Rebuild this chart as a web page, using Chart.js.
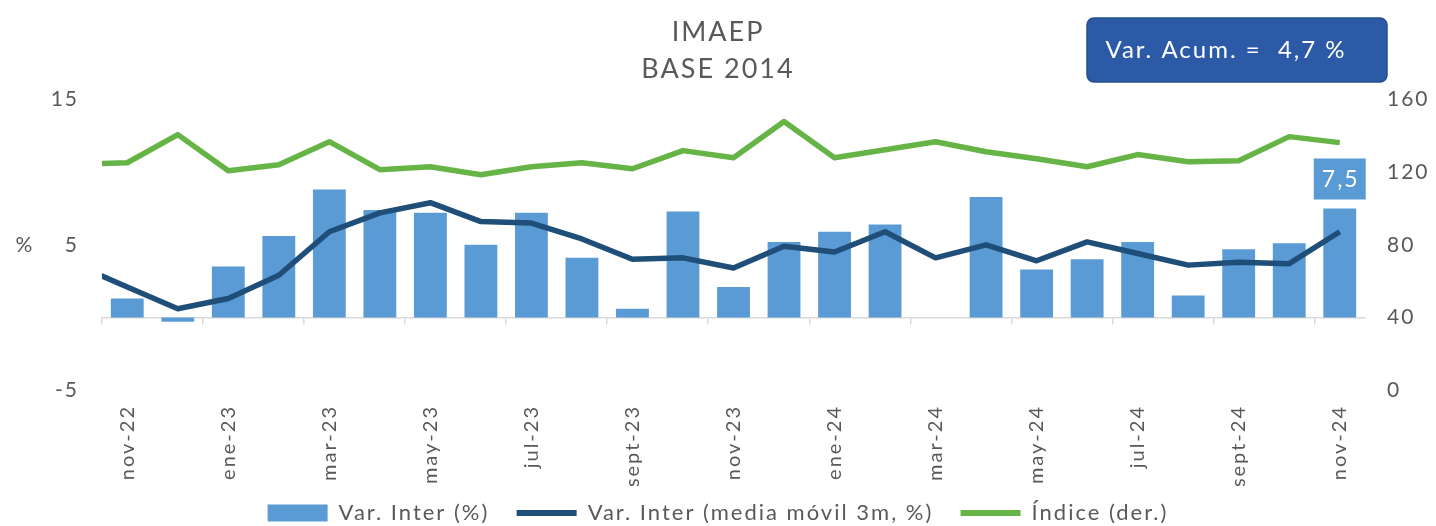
<!DOCTYPE html>
<html><head><meta charset="utf-8">
<script src="https://cdn.jsdelivr.net/npm/chart.js@4.4.1/dist/chart.umd.min.js"></script>
<style>html,body{margin:0;padding:0;background:#fff;}</style>
</head><body>
<canvas id="c" width="1436" height="526"></canvas>
<script>
// ---- data (oct-22 is only partly visible at the left edge) ----
const months = ['oct-22','nov-22','dic-22','ene-23','feb-23','mar-23','abr-23','may-23','jun-23','jul-23','ago-23','sept-23','oct-23','nov-23','dic-23','ene-24','feb-24','mar-24','abr-24','may-24','jun-24','jul-24','ago-24','sept-24','oct-24','nov-24'];
const firstMonth = 'nov-22';
const varInter = [null, 1.3, -0.3, 3.5, 5.6, 8.8, 7.4, 7.2, 5.0, 7.2, 4.1, 0.6, 7.3, 2.1, 5.2, 5.9, 6.4, 0.0, 8.3, 3.3, 4.0, 5.2, 1.5, 4.7, 5.1, 7.5];
const varInterMovil = [3.6, 2.1, 0.6, 1.3, 2.9, 5.9, 7.2, 7.9, 6.6, 6.5, 5.4, 4.0, 4.1, 3.4, 4.9, 4.5, 5.9, 4.1, 5.0, 3.9, 5.2, 4.4, 3.6, 3.8, 3.7, 5.9];
const indice = [124.5, 125.2, 140.7, 120.8, 124.1, 136.8, 121.4, 123.0, 118.6, 123.0, 125.2, 121.9, 131.9, 128.0, 147.9, 128.0, 132.4, 136.8, 131.3, 127.4, 123.0, 129.7, 125.8, 126.3, 139.6, 136.3];
const leftTicks = [-5, 5, 15];
const rightTicks = [0, 40, 80, 120, 160];
const varAcum = 4.7;
const titleLines = ['IMAEP', 'BASE 2014'];
const seriesNames = ['Var. Inter (%)', 'Var. Inter (media móvil 3m, %)', 'Índice (der.)'];
const leftUnit = '%';

const C_BAR = '#5B9BD5', C_DARK = '#1F4E79', C_GREEN = '#66B446', C_TXT = '#595959';
const FONT = 'Lato, "Open Sans", sans-serif';
const SPACING = '2px';
Chart.defaults.font.family = FONT;
Chart.defaults.color = C_TXT;

const fmt = v => v.toFixed(1).replace('.', ',');

const spacing = {
  id: 'spacing',
  beforeLayout(chart) { chart.ctx.letterSpacing = SPACING; },
  beforeDraw(chart) { chart.ctx.letterSpacing = SPACING; }
};

const overlay = {
  id: 'overlay',
  afterDraw(chart) {
    const {ctx, scales} = chart;
    ctx.save();
    ctx.letterSpacing = SPACING;
    // unit label of left axis
    ctx.fillStyle = C_TXT; ctx.font = '21px ' + FONT;
    ctx.textAlign = 'center'; ctx.textBaseline = 'middle';
    ctx.fillText(leftUnit, 25, scales.y.getPixelForValue(5));
    // value label on the last bar
    const meta = chart.getDatasetMeta(0);
    const i = varInter.length - 1;
    const bar = meta.data[i];
    const w = 52, h = 41;
    ctx.fillStyle = C_BAR;
    ctx.fillRect(bar.x - w / 2, bar.y - 9 - h, w, h);
    ctx.fillStyle = '#fff'; ctx.font = '23px ' + FONT;
    ctx.fillText(fmt(varInter[i]), bar.x + 1, bar.y - 9 - h / 2 + 1);
    // accumulated variation box
    const bx = 1087, by = 18, bw = 300, bh = 64;
    ctx.beginPath();
    ctx.roundRect(bx, by, bw, bh, 7);
    ctx.fillStyle = '#2C5AA6'; ctx.fill();
    ctx.lineWidth = 1.5; ctx.strokeStyle = '#24508F'; ctx.stroke();
    ctx.fillStyle = '#fff'; ctx.font = '24px ' + FONT;
    ctx.fillText('Var. Acum. =  ' + fmt(varAcum) + ' %', 1226, by + bh / 2);
    ctx.restore();
  }
};

new Chart(document.getElementById('c'), {
  type: 'bar',
  data: {
    labels: months,
    datasets: [
      {label: seriesNames[0], data: varInter, backgroundColor: C_BAR, yAxisID: 'y', xAxisID: 'x',
       barPercentage: 0.65, categoryPercentage: 1, order: 3},
      {type: 'line', label: seriesNames[1], data: varInterMovil, borderColor: C_DARK, backgroundColor: C_DARK,
       borderWidth: 5.5, pointRadius: 0, tension: 0, yAxisID: 'y', xAxisID: 'x', order: 2, clip: 0,
       borderJoinStyle: 'round'},
      {type: 'line', label: seriesNames[2], data: indice, borderColor: C_GREEN, backgroundColor: C_GREEN,
       borderWidth: 5.5, pointRadius: 0, tension: 0, yAxisID: 'y2', xAxisID: 'x', order: 1, clip: 0,
       borderJoinStyle: 'round'}
    ]
  },
  options: {
    responsive: false,
    animation: false,
    devicePixelRatio: 1,
    layout: {padding: {left: 0, right: 0, top: 0, bottom: -8}},
    plugins: {
      tooltip: {enabled: false},
      title: {display: true, text: titleLines, color: C_TXT,
              font: {size: 27, weight: 'normal', lineHeight: 1.4},
              padding: {top: 13, bottom: 11}},
      legend: {
        position: 'bottom',
        labels: {
          usePointStyle: true, pointStyleWidth: 60, boxHeight: 17, padding: 12,
          color: C_TXT, font: {size: 22},
          generateLabels(chart) {
            const ds = chart.data.datasets;
            return ds.map((d, i) => ({
              text: d.label + (i < ds.length - 1 ? '  ' : ''),
              fillStyle: d.type === 'line' ? d.borderColor : d.backgroundColor,
              strokeStyle: d.type === 'line' ? d.borderColor : d.backgroundColor,
              lineWidth: d.type === 'line' ? 6 : 0,
              pointStyle: d.type === 'line' ? 'line' : 'rect',
              datasetIndex: i, hidden: false, fontColor: C_TXT
            }));
          }
        }
      }
    },
    scales: {
      x: {
        type: 'category', position: 'bottom', min: firstMonth, offset: true,
        grid: {display: false, drawTicks: false},
        border: {display: false},
        ticks: {autoSkip: false, minRotation: 90, maxRotation: 90, padding: 15,
                font: {size: 20}, color: C_TXT,
                callback(v) { return v % 2 === 1 ? this.getLabelForValue(v) : ''; }},
        afterFit(s) { s.height = 100; }
      },
      x0: {
        type: 'category', position: {y: 0}, min: firstMonth, offset: true,
        grid: {display: true, drawOnChartArea: false, drawTicks: true, tickLength: 6, offset: true,
               lineWidth: 1.5,
               color: c => (c.index !== undefined && c.type === 'tick' && c.index % 2 === 0) ? '#D9D9D9' : 'rgba(0,0,0,0)'},
        border: {display: true, color: '#D9D9D9', width: 1.5},
        ticks: {display: false, autoSkip: false}
      },
      y: {
        position: 'left', min: -5, max: 15,
        grid: {display: false, drawTicks: false}, border: {display: false},
        ticks: {stepSize: 5, padding: 23, font: {size: 21}, color: C_TXT,
                callback: v => leftTicks.includes(v) ? String(v) : ''},
        afterFit(s) { s.width = 102; }
      },
      y2: {
        position: 'right', min: 0, max: 160,
        grid: {display: false, drawTicks: false}, border: {display: false},
        ticks: {stepSize: 40, padding: 22, font: {size: 21}, color: C_TXT,
                callback: v => rightTicks.includes(v) ? String(v) : ''},
        afterFit(s) { s.width = 71; }
      }
    }
  },
  plugins: [spacing, overlay]
});
</script>
</body></html>
